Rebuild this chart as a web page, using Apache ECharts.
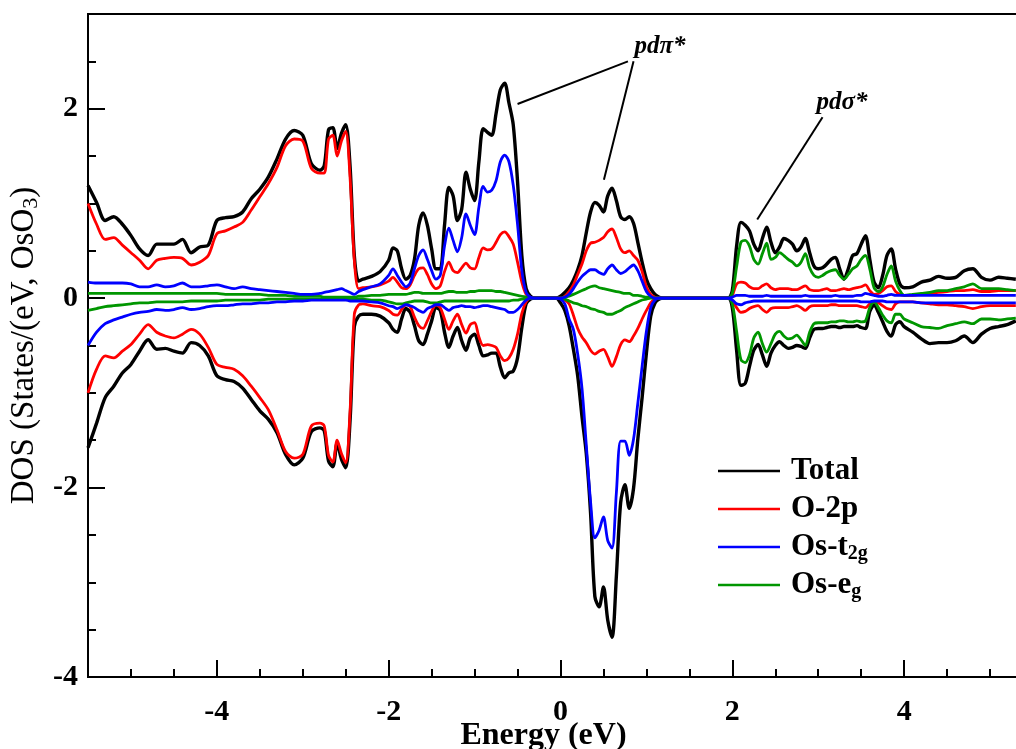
<!DOCTYPE html>
<html>
<head>
<meta charset="utf-8">
<script src="https://cdn.jsdelivr.net/npm/echarts@6/dist/echarts.min.js"></script>
<style>
html,body{margin:0;padding:0;background:#fff;}
#chart{width:1016px;height:749px;}
</style>
</head>
<body>
<div id="chart"></div>
<script>
// Energy grid (eV); finer steps where the bands have narrow structure
const energy = [
  -5.5,-5.4,-5.3,-5.2,-5.1,-5.0,-4.9,-4.8,-4.7,-4.6,-4.5,-4.4,-4.3,-4.2,-4.1,-4.0,-3.9,-3.8,-3.7,-3.6,-3.5,-3.4,-3.3,-3.2,-3.1,-3.0,-2.9,-2.8,
  -2.75,-2.7,-2.65,-2.6,-2.55,-2.5,-2.45,-2.4,-2.35,-2.3,
  -2.2,-2.1,
  -2.0,-1.95,-1.9,-1.85,-1.8,-1.75,-1.7,-1.65,-1.6,-1.55,-1.5,-1.45,-1.4,-1.35,-1.3,-1.25,-1.2,-1.15,-1.1,-1.05,-1.0,-0.95,-0.9,-0.85,-0.8,-0.75,-0.7,-0.65,-0.6,-0.55,-0.5,-0.45,-0.4,-0.35,
  -0.3,-0.2,-0.1,-0.05,
  0.0,0.05,0.1,0.15,0.2,0.25,0.3,0.35,0.4,0.45,0.5,0.55,0.6,0.65,0.7,0.75,0.8,0.85,0.9,0.95,1.0,1.05,1.1,1.15,1.2,
  1.3,1.6,1.95,
  2.0,2.05,2.1,2.15,2.2,2.25,2.3,2.35,2.4,2.45,2.5,2.55,2.6,2.65,2.7,2.75,2.8,2.85,2.9,2.95,3.0,3.05,3.1,3.15,3.2,3.25,3.3,3.35,3.4,3.45,3.5,3.55,3.6,3.65,3.7,3.75,3.8,3.85,3.9,3.95,4.0,
  4.1,4.2,4.3,4.4,4.5,4.6,4.7,4.8,4.9,5.0,5.1,5.2,5.3
];

// Spin-up DOS (positive)
const totalUp = [
  1.19,1.01,0.82,0.86,0.78,0.66,0.52,0.45,0.57,0.57,0.57,0.62,0.48,0.54,0.56,0.82,0.85,0.86,0.91,1.05,1.15,1.28,1.47,1.68,1.77,1.72,1.42,1.35,
  1.40,1.78,1.80,1.58,1.74,1.83,1.40,0.45,0.18,0.20,
  0.23,0.28,
  0.40,0.53,0.50,0.31,0.20,0.24,0.41,0.77,0.90,0.77,0.52,0.31,0.31,0.77,1.17,1.08,0.82,0.94,1.33,1.15,1.03,1.44,1.79,1.75,1.72,1.95,2.20,2.27,2.06,1.83,1.23,0.45,0.10,0.02,
  0,0,0,0,
  0.02,0.06,0.11,0.19,0.30,0.45,0.69,0.91,1.01,0.98,0.91,1.08,1.16,1.03,0.86,0.83,0.86,0.79,0.59,0.38,0.20,0.10,0.04,0.01,0.00,
  0,0,0,
  0.08,0.55,0.80,0.77,0.71,0.57,0.50,0.63,0.75,0.59,0.48,0.54,0.63,0.61,0.57,0.50,0.54,0.63,0.48,0.34,0.31,0.32,0.36,0.41,0.43,0.31,0.20,0.31,0.45,0.47,0.57,0.66,0.41,0.17,0.11,0.24,0.45,0.52,0.31,0.15,0.11,
  0.12,0.17,0.19,0.23,0.21,0.22,0.29,0.31,0.22,0.19,0.22,0.21,0.20
];
const o2pUp = [
  1.00,0.78,0.62,0.64,0.56,0.48,0.40,0.31,0.40,0.42,0.43,0.42,0.35,0.38,0.45,0.68,0.71,0.75,0.80,0.93,1.07,1.21,1.38,1.61,1.68,1.66,1.37,1.32,
  1.32,1.68,1.72,1.50,1.66,1.76,1.28,0.40,0.10,0.11,
  0.12,0.14,
  0.18,0.22,0.17,0.11,0.10,0.14,0.24,0.31,0.32,0.25,0.15,0.10,0.13,0.28,0.38,0.29,0.27,0.32,0.37,0.32,0.31,0.43,0.53,0.51,0.52,0.59,0.67,0.70,0.65,0.57,0.38,0.17,0.04,0.01,
  0,0,0,0,
  0.00,0.02,0.07,0.14,0.25,0.36,0.50,0.58,0.59,0.61,0.64,0.70,0.73,0.64,0.52,0.48,0.50,0.45,0.40,0.28,0.12,0.04,0.01,0.00,0.00,
  0,0,0,
  0.03,0.15,0.17,0.16,0.12,0.10,0.10,0.13,0.15,0.11,0.09,0.10,0.10,0.10,0.09,0.09,0.11,0.13,0.09,0.08,0.08,0.09,0.10,0.08,0.08,0.09,0.10,0.09,0.10,0.11,0.12,0.14,0.08,0.04,0.05,0.08,0.12,0.13,0.07,0.04,0.03,
  0.03,0.04,0.05,0.06,0.07,0.08,0.08,0.09,0.07,0.07,0.08,0.08,0.08
];
const t2gUp = [
  0.17,0.16,0.16,0.16,0.16,0.15,0.12,0.12,0.14,0.12,0.13,0.16,0.12,0.12,0.13,0.14,0.12,0.10,0.12,0.10,0.09,0.08,0.07,0.06,0.05,0.04,0.04,0.05,
  0.06,0.07,0.08,0.09,0.10,0.08,0.06,0.04,0.07,0.09,
  0.12,0.15,
  0.24,0.31,0.24,0.17,0.12,0.16,0.31,0.45,0.51,0.41,0.29,0.20,0.24,0.55,0.74,0.61,0.49,0.64,0.89,0.77,0.67,0.96,1.18,1.12,1.14,1.24,1.44,1.51,1.44,1.19,0.78,0.29,0.06,0.01,
  0,0,0,0,
  0.00,0.01,0.04,0.10,0.17,0.23,0.27,0.30,0.30,0.27,0.25,0.31,0.35,0.30,0.26,0.28,0.32,0.35,0.29,0.18,0.07,0.02,0.00,0.00,0.00,
  0,0,0,
  0.01,0.03,0.03,0.03,0.02,0.02,0.02,0.02,0.03,0.02,0.02,0.02,0.02,0.02,0.02,0.02,0.02,0.03,0.02,0.02,0.02,0.02,0.02,0.02,0.03,0.02,0.02,0.02,0.02,0.03,0.03,0.05,0.04,0.03,0.02,0.02,0.03,0.04,0.03,0.03,0.03,
  0.03,0.03,0.03,0.03,0.03,0.03,0.03,0.03,0.03,0.03,0.03,0.03,0.03
];
const egUp = [
  0.05,0.05,0.05,0.05,0.05,0.05,0.05,0.05,0.05,0.05,0.05,0.05,0.05,0.05,0.05,0.05,0.04,0.04,0.04,0.04,0.04,0.03,0.03,0.03,0.02,0.02,0.02,0.02,
  0.01,0.01,0.01,0.01,0.01,0.01,0.01,0.01,0.02,0.02,
  0.03,0.03,
  0.04,0.04,0.04,0.04,0.04,0.05,0.06,0.06,0.05,0.05,0.05,0.05,0.05,0.06,0.07,0.07,0.06,0.06,0.06,0.07,0.07,0.08,0.08,0.08,0.08,0.07,0.07,0.06,0.05,0.04,0.03,0.02,0.01,0.00,
  0,0,0,0,
  0.00,0.01,0.02,0.04,0.06,0.08,0.10,0.12,0.13,0.11,0.10,0.09,0.08,0.07,0.06,0.05,0.05,0.03,0.03,0.02,0.01,0.01,0.00,0.00,0.00,
  0,0,0,
  0.05,0.33,0.59,0.61,0.55,0.41,0.36,0.47,0.58,0.41,0.43,0.48,0.45,0.41,0.38,0.34,0.38,0.47,0.32,0.24,0.22,0.24,0.27,0.29,0.30,0.24,0.20,0.25,0.31,0.34,0.41,0.45,0.31,0.11,0.07,0.12,0.25,0.34,0.18,0.08,0.03,
  0.04,0.05,0.06,0.08,0.08,0.10,0.12,0.15,0.10,0.10,0.10,0.09,0.08
];

// Spin-down DOS (negative)
const totalDown = [
  -1.58,-1.32,-1.05,-0.93,-0.79,-0.70,-0.56,-0.44,-0.54,-0.53,-0.56,-0.58,-0.47,-0.50,-0.61,-0.82,-0.86,-0.88,-0.95,-1.07,-1.19,-1.28,-1.42,-1.65,-1.76,-1.69,-1.41,-1.37,
  -1.40,-1.72,-1.78,-1.53,-1.70,-1.79,-1.30,-0.30,-0.19,-0.17,
  -0.17,-0.19,
  -0.26,-0.33,-0.36,-0.22,-0.11,-0.15,-0.29,-0.45,-0.49,-0.38,-0.24,-0.10,-0.13,-0.36,-0.52,-0.40,-0.31,-0.45,-0.55,-0.42,-0.38,-0.50,-0.61,-0.60,-0.58,-0.58,-0.73,-0.84,-0.79,-0.77,-0.63,-0.31,-0.06,-0.01,
  0,0,0,0,
  -0.05,-0.13,-0.29,-0.54,-0.82,-1.25,-1.64,-2.27,-3.15,-3.26,-3.05,-3.40,-3.58,-2.94,-2.16,-1.97,-2.22,-2.01,-1.49,-1.05,-0.58,-0.19,-0.05,-0.01,0.00,
  0,0,0,
  -0.10,-0.55,-0.92,-0.90,-0.72,-0.55,-0.49,-0.60,-0.72,-0.58,-0.50,-0.46,-0.50,-0.53,-0.52,-0.50,-0.51,-0.53,-0.42,-0.33,-0.32,-0.32,-0.31,-0.30,-0.30,-0.31,-0.30,-0.30,-0.30,-0.29,-0.31,-0.32,-0.14,-0.07,-0.15,-0.25,-0.35,-0.40,-0.28,-0.25,-0.30,
  -0.36,-0.43,-0.48,-0.47,-0.47,-0.45,-0.40,-0.47,-0.38,-0.32,-0.30,-0.28,-0.24
];
const o2pDown = [
  -1.00,-0.75,-0.61,-0.63,-0.56,-0.49,-0.38,-0.28,-0.36,-0.40,-0.42,-0.38,-0.33,-0.38,-0.52,-0.70,-0.73,-0.75,-0.82,-0.93,-1.05,-1.18,-1.39,-1.62,-1.69,-1.65,-1.35,-1.32,
  -1.35,-1.66,-1.73,-1.50,-1.64,-1.74,-1.20,-0.17,-0.07,-0.06,
  -0.08,-0.09,
  -0.13,-0.17,-0.18,-0.12,-0.07,-0.09,-0.20,-0.29,-0.32,-0.24,-0.14,-0.07,-0.10,-0.22,-0.33,-0.24,-0.17,-0.28,-0.37,-0.28,-0.26,-0.41,-0.50,-0.49,-0.50,-0.52,-0.61,-0.66,-0.63,-0.54,-0.38,-0.16,-0.04,0.00,
  0,0,0,0,
  0.00,-0.02,-0.06,-0.18,-0.32,-0.41,-0.47,-0.55,-0.59,-0.56,-0.54,-0.62,-0.72,-0.62,-0.49,-0.44,-0.46,-0.40,-0.32,-0.22,-0.13,-0.05,-0.01,0.00,0.00,
  0,0,0,
  -0.03,-0.10,-0.15,-0.14,-0.11,-0.09,-0.08,-0.12,-0.15,-0.11,-0.10,-0.10,-0.10,-0.10,-0.09,-0.08,-0.10,-0.13,-0.09,-0.08,-0.08,-0.08,-0.08,-0.07,-0.07,-0.08,-0.08,-0.08,-0.08,-0.08,-0.09,-0.10,-0.06,-0.04,-0.05,-0.08,-0.11,-0.12,-0.06,-0.04,-0.04,
  -0.04,-0.05,-0.06,-0.07,-0.07,-0.08,-0.09,-0.11,-0.09,-0.08,-0.08,-0.08,-0.08
];
const t2gDown = [
  -0.50,-0.36,-0.27,-0.23,-0.20,-0.17,-0.15,-0.14,-0.12,-0.13,-0.12,-0.10,-0.12,-0.11,-0.09,-0.08,-0.08,-0.07,-0.06,-0.06,-0.05,-0.05,-0.04,-0.04,-0.03,-0.03,-0.02,-0.02,
  -0.02,-0.02,-0.02,-0.02,-0.02,-0.02,-0.03,-0.03,-0.03,-0.03,
  -0.04,-0.05,
  -0.08,-0.09,-0.11,-0.09,-0.07,-0.08,-0.10,-0.13,-0.15,-0.11,-0.09,-0.07,-0.07,-0.10,-0.13,-0.10,-0.09,-0.08,-0.09,-0.09,-0.10,-0.09,-0.08,-0.08,-0.09,-0.10,-0.11,-0.12,-0.15,-0.15,-0.12,-0.07,-0.02,0.00,
  0,0,0,0,
  -0.01,-0.06,-0.22,-0.33,-0.59,-0.95,-1.55,-2.15,-2.53,-2.45,-2.31,-2.56,-2.64,-2.06,-1.51,-1.51,-1.66,-1.49,-1.11,-0.72,-0.35,-0.10,-0.02,0.00,0.00,
  0,0,0,
  -0.02,-0.06,-0.07,-0.05,-0.04,-0.03,-0.03,-0.03,-0.03,-0.03,-0.03,-0.03,-0.03,-0.03,-0.03,-0.03,-0.03,-0.03,-0.03,-0.03,-0.03,-0.03,-0.03,-0.03,-0.03,-0.03,-0.03,-0.03,-0.03,-0.03,-0.04,-0.04,-0.04,-0.03,-0.03,-0.03,-0.04,-0.04,-0.04,-0.04,-0.04,
  -0.04,-0.05,-0.05,-0.05,-0.05,-0.05,-0.05,-0.05,-0.05,-0.05,-0.05,-0.05,-0.05
];
const egDown = [
  -0.13,-0.11,-0.09,-0.08,-0.07,-0.06,-0.05,-0.05,-0.04,-0.04,-0.04,-0.04,-0.03,-0.03,-0.03,-0.03,-0.02,-0.02,-0.02,-0.02,-0.02,-0.01,-0.01,-0.01,-0.01,-0.01,-0.01,-0.01,
  -0.01,-0.01,-0.01,-0.01,-0.01,-0.01,-0.01,-0.01,-0.01,-0.01,
  -0.02,-0.02,
  -0.04,-0.05,-0.06,-0.06,-0.05,-0.04,-0.03,-0.03,-0.03,-0.04,-0.05,-0.05,-0.04,-0.03,-0.03,-0.03,-0.03,-0.03,-0.03,-0.03,-0.03,-0.03,-0.03,-0.03,-0.03,-0.03,-0.03,-0.03,-0.03,-0.02,-0.02,-0.01,-0.01,0.00,
  0,0,0,0,
  0.00,-0.01,-0.03,-0.05,-0.06,-0.08,-0.09,-0.11,-0.12,-0.14,-0.15,-0.17,-0.17,-0.15,-0.13,-0.10,-0.08,-0.06,-0.04,-0.02,-0.01,0.00,0.00,0.00,0.00,
  0,0,0,
  -0.06,-0.35,-0.65,-0.68,-0.60,-0.42,-0.36,-0.48,-0.57,-0.48,-0.38,-0.35,-0.40,-0.43,-0.42,-0.39,-0.44,-0.50,-0.36,-0.27,-0.26,-0.26,-0.26,-0.25,-0.25,-0.24,-0.24,-0.25,-0.25,-0.24,-0.25,-0.24,-0.10,-0.04,-0.10,-0.18,-0.24,-0.26,-0.17,-0.17,-0.22,
  -0.26,-0.30,-0.31,-0.32,-0.29,-0.27,-0.25,-0.27,-0.22,-0.22,-0.23,-0.22,-0.21
];

const seriesNames = ['Total', 'O-2p', 'Os-t2g', 'Os-eg'];
const seriesColors = ['#000000', '#ff0000', '#0000ff', '#009600'];
const xTickValues = [-4, -2, 0, 2, 4];
const yTickValues = [-4, -2, 0, 2];

// Orbital-character labels and their leader lines, in (eV, DOS) units
const annotationLabels = [
  [0.86, 2.66, 'pd\u03c0*'],
  [2.98, 2.06, 'pd\u03c3*']
];
const annotationLines = [
  [[0.785, 2.50], [-0.50, 2.05]],
  [[0.85, 2.50], [0.505, 1.25]],
  [[3.05, 1.91], [2.29, 0.83]]
];

const curves = [
  [seriesNames[0], seriesColors[0], 3.4, totalUp, totalDown],
  [seriesNames[1], seriesColors[1], 2.8, o2pUp, o2pDown],
  [seriesNames[3], seriesColors[3], 2.8, egUp, egDown],
  [seriesNames[2], seriesColors[2], 2.8, t2gUp, t2gDown]
];
curves.forEach(c => {
  if (c[3].length !== energy.length || c[4].length !== energy.length) {
    throw new Error(c[0] + ' length ' + c[3].length + '/' + c[4].length + ' vs ' + energy.length);
  }
});

const FONT = 'Liberation Serif';
const black = '#000';

function dosSeries(name, color, width, values, z) {
  return {
    type: 'line',
    name: name,
    data: energy.map((e, i) => [e, values[i]]),
    symbol: 'none',
    smooth: 0.3,
    lineStyle: { color: color, width: width },
    itemStyle: { color: color },
    z: z,
    silent: true
  };
}

const series = [];
curves.forEach((c, k) => {
  series.push(dosSeries(c[0], c[1], c[2], c[3], 2 + k));
  series.push(dosSeries(c[0], c[1], c[2], c[4], 2 + k));
});

series.push({
  type: 'lines',
  coordinateSystem: 'cartesian2d',
  polyline: false,
  silent: true,
  z: 10,
  lineStyle: { color: black, width: 2, opacity: 1 },
  data: annotationLines.map(l => ({ coords: l }))
});
series.push({
  type: 'scatter',
  silent: true,
  symbolSize: 0,
  z: 10,
  itemStyle: { opacity: 1, color: black },
  data: annotationLabels,
  label: {
    show: true,
    position: 'right',
    distance: 0,
    formatter: p => p.data[2],
    fontFamily: FONT,
    fontStyle: 'italic',
    fontWeight: 'bold',
    fontSize: 25,
    color: black
  }
});

const tickFont = { fontFamily: FONT, fontWeight: 'bold', fontSize: 30, color: black };

const option = {
  animation: false,
  backgroundColor: '#fff',
  grid: {
    left: 88, right: -17, top: 14, bottom: 72,
    outerBoundsMode: 'none',
    containLabel: false,
    show: true, borderColor: black, borderWidth: 2, backgroundColor: 'transparent'
  },
  legend: {
    orient: 'vertical',
    left: 713,
    top: 449,
    icon: 'rect',
    itemWidth: 62,
    itemHeight: 2.6,
    itemGap: 4,
    data: seriesNames,
    formatter: n => n === 'Os-t2g' ? 'Os-t{sub|2g}' : (n === 'Os-eg' ? 'Os-e{sub|g}' : n),
    textStyle: {
      fontFamily: FONT, fontWeight: 'bold', fontSize: 31, color: black, lineHeight: 34,
      padding: [0, 0, 0, 6],
      rich: {
        sub: { fontFamily: FONT, fontWeight: 'bold', fontSize: 20, lineHeight: 14, verticalAlign: 'bottom', color: black }
      }
    }
  },
  xAxis: [
    {
      type: 'value', min: -5.5, max: 5.5, interval: 0.5, position: 'bottom',
      axisLine: { show: true, onZero: false, lineStyle: { color: black, width: 2 } },
      axisTick: { show: true, inside: true, length: 8, lineStyle: { color: black, width: 2 } },
      axisLabel: { show: false },
      splitLine: { show: false },
      name: 'Energy (eV)',
      nameLocation: 'middle',
      nameGap: 43,
      nameTextStyle: { fontFamily: FONT, fontWeight: 'bold', fontSize: 32, color: black, padding: [0, 34, 0, 0] }
    },
    {
      type: 'value', min: -5.5, max: 5.5, position: 'bottom',
      axisLine: { show: false, onZero: false },
      axisTick: { show: true, inside: true, length: 17, customValues: xTickValues, lineStyle: { color: black, width: 2 } },
      axisLabel: Object.assign({ show: true, margin: 20, customValues: xTickValues }, tickFont),
      splitLine: { show: false }
    }
  ],
  yAxis: [
    {
      type: 'value', min: -4, max: 3, interval: 0.5, position: 'left',
      axisLine: { show: true, onZero: false, lineStyle: { color: black, width: 2 } },
      axisTick: { show: true, inside: true, length: 8, lineStyle: { color: black, width: 2 } },
      axisLabel: { show: false },
      splitLine: { show: false },
      name: 'DOS (States/(eV, OsO{sub|3})',
      nameLocation: 'middle',
      nameGap: 46,
      nameTextStyle: {
        fontFamily: FONT, fontSize: 33, color: black, lineHeight: 36,
        rich: { sub: { fontFamily: FONT, fontSize: 22, lineHeight: 16, verticalAlign: 'bottom', color: black } }
      }
    },
    {
      type: 'value', min: -4, max: 3, position: 'left',
      axisLine: { show: false, onZero: false },
      axisTick: { show: true, inside: true, length: 17, customValues: yTickValues, lineStyle: { color: black, width: 2 } },
      axisLabel: Object.assign({ show: true, margin: 10, customValues: yTickValues }, tickFont),
      splitLine: { show: false }
    }
  ],
  series: series
};

const chart = echarts.init(document.getElementById('chart'), null, { renderer: 'canvas' });
chart.setOption(option);
</script>
</body>
</html>
